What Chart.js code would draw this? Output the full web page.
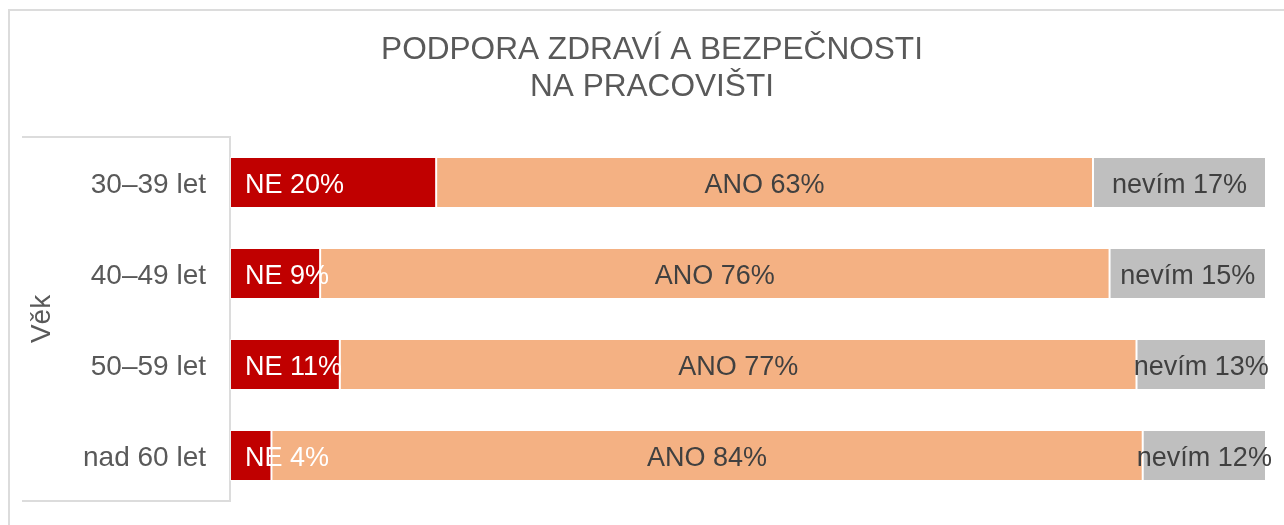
<!DOCTYPE html>
<html>
<head>
<meta charset="utf-8">
<script src="https://cdn.jsdelivr.net/npm/chart.js@4/dist/chart.umd.min.js"></script>
<style>
  html, body { margin: 0; padding: 0; background: #ffffff; overflow: hidden; }
  #wrap { position: relative; width: 1284px; height: 525px; }
  #frame { position: absolute; left: 8px; top: 9px; width: 1400px; height: 700px; border: 2px solid #dcdcdc; box-sizing: border-box; }
  canvas { position: absolute; left: 0; top: 0; }
</style>
</head>
<body>
<div id="wrap">
  <div id="frame"></div>
  <canvas id="c" width="1284" height="525"></canvas>
</div>
<script>
// ---- data ----
const categories = ["30–39 let", "40–49 let", "50–59 let", "nad 60 let"];
const seriesNames = ["NE", "ANO", "nevím"];
const neValues = [19.9, 8.7, 10.6, 4.0];
const anoValues = [63.4, 76.2, 76.9, 84.1];
const nevimValues = [16.7, 15.1, 12.5, 11.9];
const titleLines = ["PODPORA ZDRAVÍ A BEZPEČNOSTI", "NA PRACOVIŠTI"];
const axisTitle = "Věk";

const FONT = "'Liberation Sans', Arial, sans-serif";
const colors = ["#C00000", "#F4B183", "#BFBFBF"];
const labelColors = ["#FFFFFF", "#404040", "#404040"];

const labelPlugin = {
  id: 'segLabels',
  afterDatasetsDraw(chart) {
    const ctx = chart.ctx;
    ctx.save();
    ctx.font = "27px " + FONT;
    ctx.textBaseline = 'middle';
    chart.data.datasets.forEach((ds, di) => {
      const meta = chart.getDatasetMeta(di);
      meta.data.forEach((el, i) => {
        const txt = seriesNames[di] + " " + Math.round(ds.data[i]) + "%";
        ctx.fillStyle = labelColors[di];
        if (di === 0) {
          ctx.textAlign = 'left';
          ctx.fillText(txt, Math.min(el.base, el.x) + 15, el.y + 3);
        } else {
          ctx.textAlign = 'center';
          ctx.fillText(txt, (el.base + el.x) / 2, el.y + 3);
        }
      });
    });
    ctx.restore();
  }
};

const boxPlugin = {
  id: 'axisBox',
  afterDraw(chart) {
    const ctx = chart.ctx;
    const a = chart.chartArea;
    ctx.save();
    ctx.strokeStyle = '#dcdcdc';
    ctx.lineWidth = 2;
    ctx.beginPath();
    ctx.moveTo(22, a.top);
    ctx.lineTo(a.left, a.top);
    ctx.moveTo(22, a.bottom);
    ctx.lineTo(a.left, a.bottom);
    ctx.stroke();
    ctx.restore();
  }
};

new Chart(document.getElementById('c'), {
  type: 'bar',
  data: {
    labels: categories,
    datasets: [
      { label: seriesNames[0], data: neValues, backgroundColor: colors[0] },
      { label: seriesNames[1], data: anoValues, backgroundColor: colors[1] },
      { label: seriesNames[2], data: nevimValues, backgroundColor: colors[2] }
    ]
  },
  options: {
    responsive: false,
    animation: false,
    indexAxis: 'y',
    layout: { padding: { left: 38, right: 18, top: 11, bottom: 24 } },
    datasets: {
      bar: {
        barPercentage: 0.56,
        categoryPercentage: 1,
        borderWidth: 1,
        borderColor: 'rgba(255,255,255,0.45)',
        borderSkipped: false
      }
    },
    plugins: {
      legend: { display: false },
      tooltip: { enabled: false },
      title: {
        display: true,
        text: titleLines,
        color: '#595959',
        font: { family: FONT, size: 31.6, weight: 'normal', lineHeight: 1.17 },
        padding: { top: 21, bottom: 31 }
      }
    },
    scales: {
      x: {
        stacked: true,
        min: 0,
        max: 100,
        display: false
      },
      y: {
        stacked: true,
        grid: { display: false, drawTicks: false },
        border: { display: true, color: '#dcdcdc', width: 2 },
        ticks: {
          color: '#595959',
          font: { family: FONT, size: 28 },
          padding: 24,
          labelOffset: 3
        },
        title: {
          display: true,
          text: axisTitle,
          color: '#595959',
          font: { family: FONT, size: 28, lineHeight: 0.1 },
          padding: { top: 3, bottom: 0 }
        },
        afterFit(scale) {
          scale.width = 192;
          scale.paddingTop = 0;
          scale.paddingBottom = 0;
        }
      }
    }
  },
  plugins: [labelPlugin, boxPlugin]
});
</script>
</body>
</html>
